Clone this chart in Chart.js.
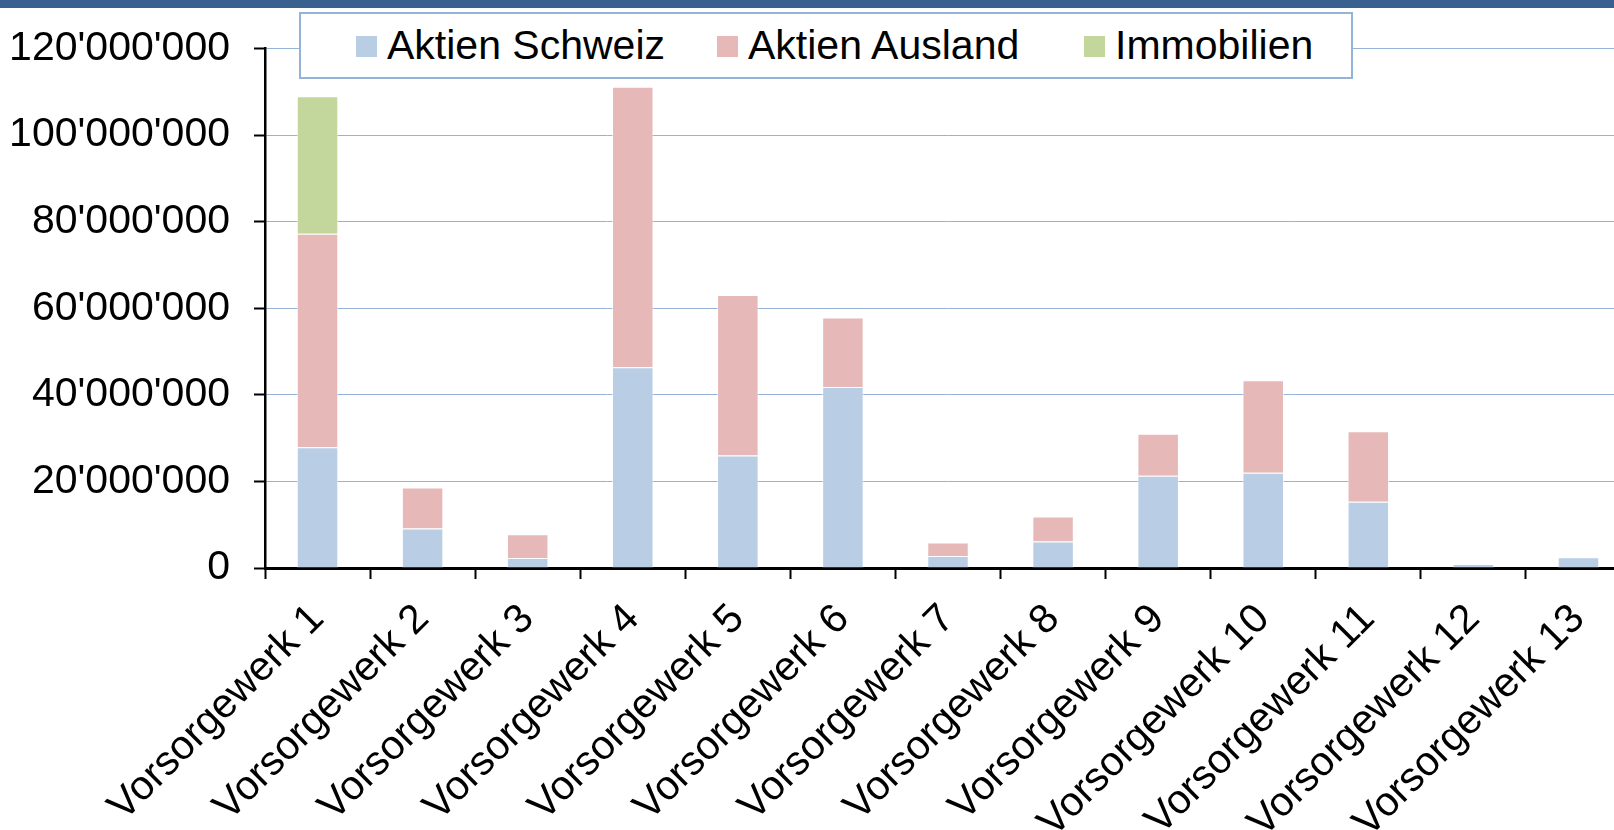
<!DOCTYPE html>
<html>
<head>
<meta charset="utf-8">
<script src="https://cdn.jsdelivr.net/npm/chart.js@4/dist/chart.umd.min.js"></script>
<style>
  html, body { margin: 0; padding: 0; background: #fff; overflow: hidden; }
  #wrap { position: relative; width: 1614px; height: 830px; overflow: hidden; }
  #band { position: absolute; left: 0; top: 0; width: 1614px; height: 8px; background: #386190; z-index: 2; }
  #holder { position: absolute; left: 0; top: 0; width: 1632px; height: 830px; }
  #legend {
    position: absolute; left: 299px; top: 12px; width: 1054px; height: 67px;
    box-sizing: border-box; border: 2px solid #95b3d7; background: #fff; z-index: 2;
    font-family: "Liberation Sans", Arial, sans-serif; font-size: 41px; color: #000;
  }
  .item { position: absolute; top: 0; height: 63px; display: flex; align-items: center; white-space: nowrap; }
  .box { width: 21px; height: 21px; margin-right: 10px; margin-top: 2px; }
</style>
</head>
<body>
<div id="wrap">
  <div id="band"></div>
  <div id="holder"><canvas id="chart"></canvas></div>
  <div id="legend"></div>
</div>
<script>
// Kategorien und Werte (CHF)
const labels = ['Vorsorgewerk 1', 'Vorsorgewerk 2', 'Vorsorgewerk 3', 'Vorsorgewerk 4', 'Vorsorgewerk 5',
  'Vorsorgewerk 6', 'Vorsorgewerk 7', 'Vorsorgewerk 8', 'Vorsorgewerk 9', 'Vorsorgewerk 10',
  'Vorsorgewerk 11', 'Vorsorgewerk 12', 'Vorsorgewerk 13'];
const aktienSchweiz = [27900000, 9100000, 2300000, 46400000, 26000000, 41800000, 2800000,
  6100000, 21300000, 22000000, 15300000, 900000, 2500000];
const aktienAusland = [49300000, 9500000, 5500000, 64800000, 37100000, 16100000, 3100000,
  5800000, 9700000, 21400000, 16300000, 0, 0];
const immobilien = [31800000, 0, 0, 0, 0, 0, 0, 0, 0, 0, 0, 0, 0];
const seriesNames = ['Aktien Schweiz', 'Aktien Ausland', 'Immobilien'];
const seriesColors = ['#b9cde5', '#e6b9b8', '#c3d69b'];
const yTicks = [0, 20000000, 40000000, 60000000, 80000000, 100000000, 120000000];

const fontFamily = '"Liberation Sans", Arial, sans-serif';

function formatCH(v) {
  return String(v).replace(/\B(?=(\d{3})+(?!\d))/g, "'");
}

// Legende als HTML, damit der Rahmen wie im Original aussieht
const legendEl = document.getElementById('legend');
const legendLeft = [55, 416, 783];
seriesNames.forEach((name, i) => {
  const item = document.createElement('div');
  item.className = 'item';
  item.style.left = legendLeft[i] + 'px';
  const sw = document.createElement('span');
  sw.className = 'box';
  sw.style.background = seriesColors[i];
  const txt = document.createElement('span');
  txt.textContent = name;
  item.appendChild(sw);
  item.appendChild(txt);
  legendEl.appendChild(item);
});

const allData = [aktienSchweiz, aktienAusland, immobilien];
const datasets = seriesNames.map((name, i) => ({
  label: name,
  data: allData[i],
  backgroundColor: seriesColors[i],
  borderColor: 'rgba(255,255,255,0.6)',
  borderWidth: 1,
  categoryPercentage: 1,
  barPercentage: 0.395
}));

const ctx = document.getElementById('chart').getContext('2d');
new Chart(ctx, {
  type: 'bar',
  data: { labels: labels, datasets: datasets },
  options: {
    responsive: true,
    maintainAspectRatio: false,
    animation: false,
    layout: { padding: { top: 48, right: 1, left: 0, bottom: 0 } },
    plugins: {
      legend: { display: false },
      tooltip: { enabled: false }
    },
    scales: {
      x: {
        stacked: true,
        afterFit: function (scale) { scale.height = 262; },
        grid: {
          display: true,
          offset: true,
          drawOnChartArea: false,
          drawTicks: true,
          tickLength: 11,
          tickColor: '#000',
          tickWidth: 2
        },
        border: { display: true, color: '#000', width: 3 },
        ticks: {
          autoSkip: false,
          maxRotation: 45,
          minRotation: 45,
          padding: 16,
          color: '#000',
          font: { family: fontFamily, size: 41 }
        }
      },
      y: {
        stacked: true,
        min: 0,
        max: 120000000,
        afterFit: function (scale) { scale.width = 265; },
        afterBuildTicks: function (scale) {
          scale.ticks = yTicks.map(v => ({ value: v }));
        },
        grid: {
          color: c => (c.tick && c.tick.value === 0 ? 'rgba(0,0,0,0)' : '#95b3d7'),
          lineWidth: 1,
          drawTicks: true,
          tickLength: 11,
          tickColor: '#000',
          tickWidth: 2
        },
        border: { display: true, color: '#000', width: 2.5 },
        ticks: {
          padding: 24,
          color: '#000',
          font: { family: fontFamily, size: 41 },
          callback: function (value) { return formatCH(value); }
        }
      }
    }
  }
});
</script>
</body>
</html>
